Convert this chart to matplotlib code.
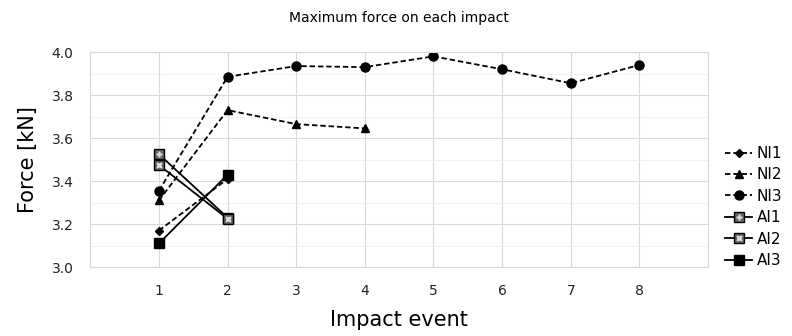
# maximum force on each impact
# NI = dashed lines, AI = solid lines

import matplotlib
matplotlib.use('AGG')
import matplotlib.pyplot as plt
import numpy as np

#%% data
ni1_x = [1, 2]
ni1_y = [3.17, 3.41]
ni2_x = [1, 2, 3, 4]
ni2_y = [3.31, 3.73, 3.665, 3.645]
ni3_x = [1, 2, 3, 4, 5, 6, 7, 8]
ni3_y = [3.355, 3.885, 3.935, 3.93, 3.98, 3.92, 3.855, 3.94]
ai1_x = [1, 2]
ai1_y = [3.525, 3.23]
ai2_x = [1, 2]
ai2_y = [3.475, 3.225]
ai3_x = [1, 2]
ai3_y = [3.11, 3.43]

labels = ['NI1', 'NI2', 'NI3', 'AI1', 'AI2', 'AI3']

#%% make plot
fig = plt.figure(figsize=(7.92, 3.36), dpi=100)
ax = fig.add_axes([0.114, 0.205, 0.78, 0.64])

dash = (3, 1.6)
l1, = ax.plot(ni1_x, ni1_y, color='k', linestyle='--', dashes=dash, linewidth=1.3, marker='D', markersize=4)
l2, = ax.plot(ni2_x, ni2_y, color='k', linestyle='--', dashes=dash, linewidth=1.3, marker='^', markersize=6)
l3, = ax.plot(ni3_x, ni3_y, color='k', linestyle='--', dashes=dash, linewidth=1.3, marker='o', markersize=6.5)
l4, = ax.plot(ai1_x, ai1_y, color='k', linestyle='-', linewidth=1.3, marker='s', markersize=7,
              markerfacecolor='#666666', markeredgecolor='k')
o4, = ax.plot(ai1_x, ai1_y, color='none', linestyle='none', marker='P', markersize=5,
              markerfacecolor='#e0e0e0', markeredgecolor='none')
l5, = ax.plot(ai2_x, ai2_y, color='k', linestyle='-', linewidth=1.3, marker='s', markersize=7,
              markerfacecolor='#666666', markeredgecolor='k')
o5, = ax.plot(ai2_x, ai2_y, color='none', linestyle='none', marker='X', markersize=5,
              markerfacecolor='#e0e0e0', markeredgecolor='none')
l6, = ax.plot(ai3_x, ai3_y, color='k', linestyle='-', linewidth=1.3, marker='s', markersize=6.5)

ax.set_xlim(0, 9)
ax.set_ylim(3.0, 4.0)
ax.set_xticks(np.arange(1, 9))
ax.set_yticks(np.arange(3.0, 4.01, 0.2))
ax.set_yticks(np.arange(3.1, 4.0, 0.2), minor=True)
ax.yaxis.set_major_formatter(matplotlib.ticker.FormatStrFormatter('%.1f'))
ax.tick_params(which='both', length=0, labelsize=10, colors='#222222', pad=12)
ax.grid(which='major', color='#d9d9d9', linewidth=0.8)
ax.grid(which='minor', axis='y', color='#efefef', linewidth=0.6)
ax.set_axisbelow(True)
for sp in ax.spines.values():
    sp.set_color('#d9d9d9')

ax.set_title('Maximum force on each impact', fontsize=10, pad=22)
ax.set_xlabel('Impact event', fontsize=15, labelpad=9)
ax.set_ylabel('Force [kN]', fontsize=15, labelpad=10)

handles = [l1, l2, l3, (l4, o4), (l5, o5), l6]
ax.legend(handles, labels, loc='center left', bbox_to_anchor=(1.005, 0.28), frameon=False,
          fontsize=11, handlelength=1.8, labelspacing=0.42, handletextpad=0.3)

fig.savefig('out.png', dpi=100)
plt.close()
